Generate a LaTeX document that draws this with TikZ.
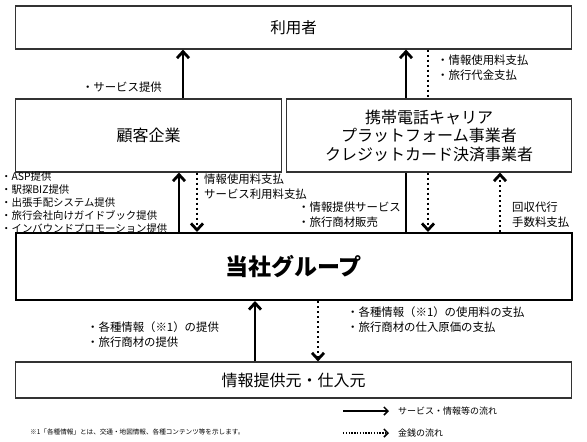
\documentclass[tikz,border=0pt]{standalone}
\usepackage{fontspec}
\setmainfont{Noto Sans CJK JP}
\usetikzlibrary{arrows.meta}
\begin{document}
\begin{tikzpicture}[x=1pt,y=-1pt,
  box/.style={draw=black!80, line width=1.1pt, inner sep=0pt},
  sflow/.style={line width=2.8pt, -{Straight Barb[length=6.5pt,width=12pt]}},
  dflow/.style={line width=2.8pt, dash pattern=on 2.4pt off 2.6pt, -{Straight Barb[length=6.5pt,width=12pt]}},
  dline/.style={line width=2.8pt, dash pattern=on 2.4pt off 2.6pt},
  sline/.style={line width=2.8pt},
  lbl/.style={inner sep=0pt, align=left, font=\fontsize{11.4pt}{15pt}\selectfont},
  small/.style={inner sep=0pt, align=left, font=\fontsize{10.4pt}{13pt}\selectfont},
]
\useasboundingbox (0,0) rectangle (587,442);
% boxes
\node[box, minimum width=556pt, minimum height=43pt, font=\fontsize{15.5pt}{18pt}\selectfont] (user) at (293.5,27.5) {利用者};
\node[box, minimum width=266pt, minimum height=73pt, font=\fontsize{16pt}{19pt}\selectfont] (kokyaku) at (148.5,135.5) {顧客企業};
\node[box, minimum width=285pt, minimum height=73pt, align=center, font=\fontsize{16pt}{18.5pt}\selectfont] (carrier) at (429,135.5) {携帯電話キャリア\\プラットフォーム事業者\\クレジットカード決済事業者};
\node[draw=black, line width=2pt, inner sep=0pt, minimum width=556pt, minimum height=67pt, font=\bfseries\fontsize{23pt}{26pt}\selectfont] (tousha) at (293.5,266.5) {当社グループ};
\node[box, minimum width=556pt, minimum height=36pt, font=\fontsize{16pt}{18pt}\selectfont] (source) at (293.5,380) {情報提供元・仕入元};
% x positions
\coordinate (xa) at (183,0);
\coordinate (xb) at (406,0);
\coordinate (xc) at (428,0);
\coordinate (xd) at (179,0);
\coordinate (xe) at (197,0);
\coordinate (xf) at (500,0);
\coordinate (xg) at (255,0);
\coordinate (xh) at (318,0);
% connectors top
\draw[sflow] (kokyaku.north -| xa) -- (user.south -| xa);
\draw[sline] (tousha.north -| xb) -- (carrier.south -| xb);
\draw[sflow] (carrier.north -| xb) -- (user.south -| xb);
\draw[dline] (user.south -| xc) -- (carrier.north -| xc);
\draw[dflow] (carrier.south -| xc) -- (tousha.north -| xc);
% connectors kokyaku
\draw[sflow] (tousha.north -| xd) -- (kokyaku.south -| xd);
\draw[dflow] (kokyaku.south -| xe) -- (tousha.north -| xe);
\draw[dflow] (tousha.north -| xf) -- (carrier.south -| xf);
% connectors bottom
\draw[sflow] (source.north -| xg) -- (tousha.south -| xg);
\draw[dflow] (tousha.south -| xh) -- (source.north -| xh);
% labels
\node[lbl, anchor=east] (l1) at (162,87) {・サービス提供};
\node[lbl, anchor=north west] (l2) at (437,55) {・情報使用料支払\\・旅行代金支払};
\node[small, anchor=north west] (l3) at (1,172) {・ASP提供\\・駅探BIZ提供\\・出張手配システム提供\\・旅行会社向けガイドブック提供\\・インバウンドプロモーション提供};
\node[lbl, anchor=north west] (l4) at (204,174) {情報使用料支払\\サービス利用料支払};
\node[lbl, anchor=north east] (l5) at (401,202) {・情報提供サービス\\・旅行商材販売};
\node[lbl, anchor=north west] (l6) at (512,202) {回収代行\\手数料支払};
\node[lbl, anchor=north west] (l7) at (87,322) {・各種情報（※1）の提供\\・旅行商材の提供};
\node[lbl, anchor=north west] (l8) at (347,307) {・各種情報（※1）の使用料の支払\\・旅行商材の仕入原価の支払};
% legend
\coordinate (ls1) at (343,411);
\coordinate (le1) at (389,411);
\coordinate (ls2) at (343,433);
\coordinate (le2) at (389,433);
\draw[line width=1.5pt, -{Straight Barb[length=4pt,width=8pt]}] (ls1) -- (le1);
\draw[line width=1.5pt, dash pattern=on 1.4pt off 1.4pt, -{Straight Barb[length=4pt,width=8pt]}] (ls2) -- (le2);
\node[inner sep=0pt, anchor=west, font=\fontsize{9pt}{11pt}\selectfont] (lg1) at (398,411) {サービス・情報等の流れ};
\node[inner sep=0pt, anchor=west, font=\fontsize{9pt}{11pt}\selectfont] (lg2) at (398,433) {金銭の流れ};
\node[inner sep=0pt, anchor=west, font=\fontsize{6.6pt}{8pt}\selectfont] (fn) at (30,432) {※1「各種情報」とは、交通・地図情報、各種コンテンツ等を示します。};
\end{tikzpicture}
\end{document}
